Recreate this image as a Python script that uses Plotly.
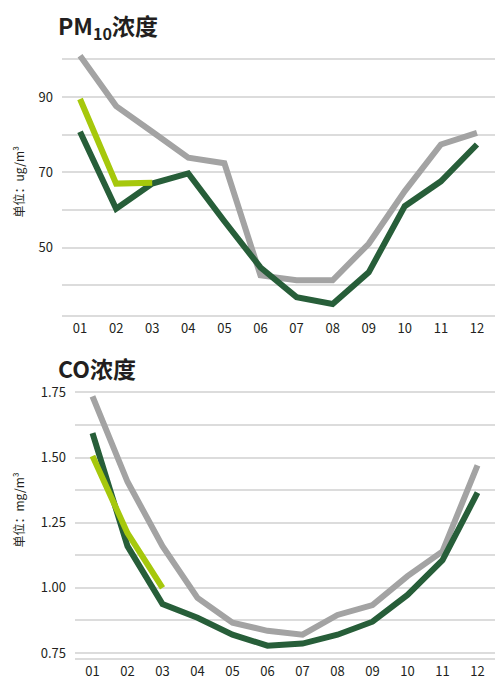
import plotly.graph_objects as go

months = ["01", "02", "03", "04", "05", "06", "07", "08", "09", "10", "11", "12"]

pm10_gray = [101, 87.6, 80.8, 73.9, 72.4, 42.6, 41.3, 41.3, 51, 65, 77.4, 80.5]
pm10_dark = [80.8, 60.3, 67, 69.7, 57, 44.7, 36.8, 35, 43.4, 61, 67.6, 77.4]
pm10_light = [89.5, 67, 67.2, None, None, None, None, None, None, None, None, None]

co_gray = [1.735, 1.407, 1.16, 0.961, 0.866, 0.835, 0.82, 0.896, 0.934, 1.045, 1.14, 1.47]
co_dark = [1.594, 1.16, 0.938, 0.885, 0.82, 0.778, 0.786, 0.82, 0.87, 0.973, 1.106, 1.365]
co_light = [1.506, 1.21, 1.0, None, None, None, None, None, None, None, None, None]

GRAY = "#a3a3a3"
DARK = "#275e39"
LIGHT = "#a6c80c"
GRID = "#dcdcdc"
TXT = "#231f20"
FONT = "Noto Sans CJK SC"

W, H = 495, 681

fig = go.Figure()
for ys, col in [(pm10_gray, GRAY), (pm10_dark, DARK), (pm10_light, LIGHT)]:
    fig.add_trace(go.Scatter(x=months, y=ys, mode="lines", line=dict(color=col, width=6),
                             xaxis="x", yaxis="y", showlegend=False, connectgaps=False))
for ys, col in [(co_gray, GRAY), (co_dark, DARK), (co_light, LIGHT)]:
    fig.add_trace(go.Scatter(x=months, y=ys, mode="lines", line=dict(color=col, width=6),
                             xaxis="x2", yaxis="y2", showlegend=False, connectgaps=False))

def py(px):
    return 1 - px / H

xcommon = dict(type="category", showgrid=False, zeroline=False, ticks="",
               showline=True, linecolor=GRID, linewidth=2, range=[-0.5, 11.5],
               tickfont=dict(family=FONT, size=13, color=TXT), fixedrange=True)
ycommon = dict(showgrid=True, gridcolor=GRID, gridwidth=2, zeroline=False, ticks="",
               showline=False, tickfont=dict(family=FONT, size=13, color=TXT),
               ticklabelstandoff=8, fixedrange=True)

fig.update_layout(
    width=W, height=H,
    margin=dict(l=0, r=0, t=0, b=0),
    paper_bgcolor="white", plot_bgcolor="white",
    font=dict(family=FONT, color=TXT),
    xaxis=dict(xcommon, domain=[62 / W, 1], anchor="y"),
    yaxis=dict(ycommon, domain=[py(315), py(38)], range=[32, 105], anchor="x",
               tick0=50, dtick=20,
               minor=dict(tick0=40, dtick=10, showgrid=True, gridcolor=GRID, gridwidth=2, ticks="")),
    xaxis2=dict(xcommon, domain=[75 / W, 1], anchor="y2"),
    yaxis2=dict(ycommon, domain=[py(661), py(385)], range=[0.73, 1.78], anchor="x2",
                tick0=0.75, dtick=0.25, tickformat=".2f",
                minor=dict(tick0=0.75, dtick=0.125, showgrid=True, gridcolor=GRID, gridwidth=2, ticks="")),
    annotations=[
        dict(text="<b>PM<sub>10</sub>浓度</b>", xref="paper", yref="paper",
             x=56 / W, y=py(24), xanchor="left", yanchor="middle", showarrow=False,
             font=dict(family=FONT, size=23, color=TXT)),
        dict(text="<b>CO浓度</b>", xref="paper", yref="paper",
             x=56 / W, y=py(368), xanchor="left", yanchor="middle", showarrow=False,
             font=dict(family=FONT, size=23, color=TXT)),
        dict(text="单位：ug/m³", xref="paper", yref="paper", textangle=-90,
             x=18 / W, y=py(180), xanchor="center", yanchor="middle", showarrow=False,
             font=dict(family=FONT, size=12, color=TXT)),
        dict(text="单位：mg/m³", xref="paper", yref="paper", textangle=-90,
             x=18 / W, y=py(512), xanchor="center", yanchor="middle", showarrow=False,
             font=dict(family=FONT, size=12, color=TXT)),
    ],
)

fig.write_html(
    "out.html",
    config={"displayModeBar": False},
    post_script="document.body.style.margin='0';document.body.style.overflow='hidden';",
)
